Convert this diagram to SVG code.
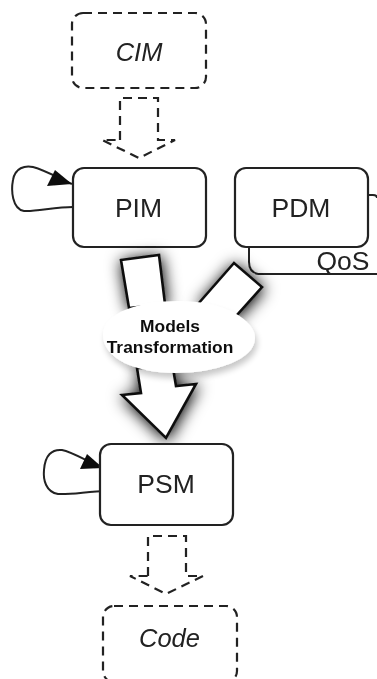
<svg xmlns="http://www.w3.org/2000/svg" width="377" height="679" viewBox="0 0 377 679">
<style>
.b{fill:#fff;stroke:#222;stroke-width:2.2}
.d{fill:none;stroke:#222;stroke-width:2.2;stroke-dasharray:9 6}
.l{fill:none;stroke:#222;stroke-width:2}
.h{fill:#111;stroke:none}
.a{fill:#fff;stroke:#111;stroke-width:2.6;stroke-linejoin:miter}
text{font-family:"Liberation Sans",Arial,sans-serif;fill:#222;text-anchor:middle}
.t{font-size:26.5px}
.i{font-size:25.5px;font-style:italic}
.m{font-size:17.4px;font-weight:bold;fill:#111}
</style>
<defs>
<filter id="soft" x="0" y="0" width="377" height="679" filterUnits="userSpaceOnUse"><feGaussianBlur stdDeviation="0.45"/></filter>
<filter id="s" x="-60%" y="-60%" width="220%" height="220%">
<feGaussianBlur in="SourceAlpha" stdDeviation="8"/>
<feOffset dx="1" dy="2"/>
<feComponentTransfer><feFuncA type="linear" slope="1.05"/></feComponentTransfer>
<feMerge><feMergeNode/><feMergeNode in="SourceGraphic"/></feMerge>
</filter>
<filter id="e" x="-20%" y="-30%" width="140%" height="170%">
<feGaussianBlur in="SourceAlpha" stdDeviation="3"/>
<feOffset dx="2" dy="5"/>
<feComponentTransfer><feFuncA type="linear" slope="0.22"/></feComponentTransfer>
<feMerge><feMergeNode/><feMergeNode in="SourceGraphic"/></feMerge>
</filter>
</defs>
<g filter="url(#soft)">
<g id="connectors">
<path class="d" d="M120 140V98H158V140H175L139 158L102 140H120"/>
<path class="d" d="M148 576V536H186V576H203L166 594L130 576H148"/>
<path class="l" d="M73 207C55 207 35 212 24 211C12 209 11 190 13 180C15 168 25 165 33 167C44 170 55 176 72 184"/>
<polygon class="h" points="72,184 47,186 55,170"/>
<path class="l" d="M106 491C90 491 70 495 58 494C46 492 43 480 44 470C45 455 52 449 62 450C72 452 85 460 103 468"/>
<polygon class="h" points="103,468 80,469 87,454"/>
</g>
<g id="cim"><rect class="d" x="72" y="13" width="134" height="75" rx="11"/><text class="i" x="139" y="61">CIM</text></g>
<g id="qos">
<path class="l" d="M249 247V262Q249 274 261 274H377"/>
<path class="l" d="M368 195H373Q377 195 377 198"/>
<text class="t" x="343" y="270">QoS</text>
</g>
<g id="pim"><rect class="b" x="73" y="168" width="133" height="79" rx="11"/><text class="t" x="138.500" y="217">PIM</text></g>
<g id="pdm"><rect class="b" x="235" y="168" width="133" height="79" rx="11"/><text class="t" x="301" y="217">PDM</text></g>
<g id="transform-arrows">
<polygon class="a" filter="url(#s)" points="121,260 159,255 165,304 129,308"/>
<polygon class="a" filter="url(#s)" points="198,304 234,263 262,287 236,316"/>
<polygon class="a" filter="url(#s)" points="137,368 141,393 122,395 166,438 196,384 176,386 173,368"/>
</g>
<g id="psm"><rect class="b" x="100" y="444" width="133" height="81" rx="11"/><text class="t" x="166" y="493">PSM</text></g>
<g id="code"><rect class="d" x="103" y="606" width="134" height="76" rx="11"/><text class="i" x="169.500" y="647">Code</text></g>
<g id="models-transformation">
<path d="M103 335C103 312 140 301 178 301C225 301 255 320 255 338C255 360 215 373 175 373C135 373 103 358 103 335Z" fill="#fff" filter="url(#e)"/>
<text class="m" x="170" y="332">Models</text>
<text class="m" x="170" y="353">Transformation</text>
</g>
</g>
</svg>
